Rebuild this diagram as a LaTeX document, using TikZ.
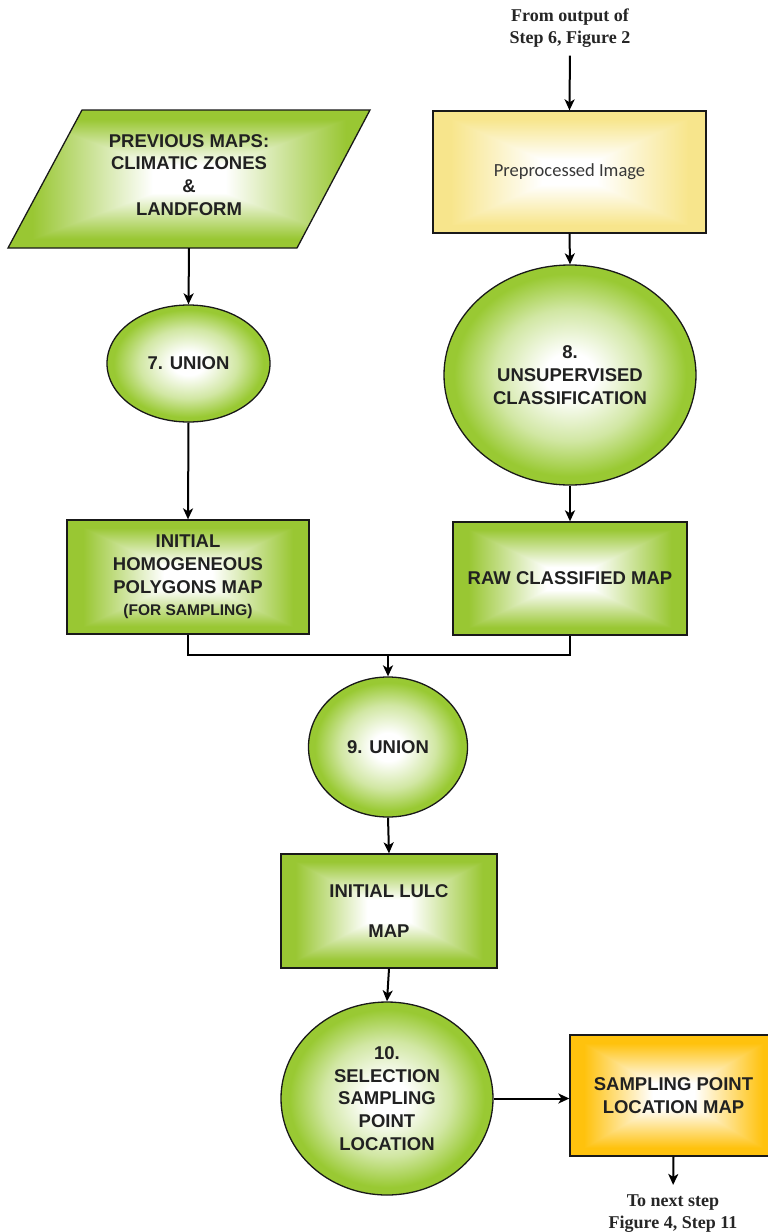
\documentclass[tikz,border=0pt]{standalone}
\usepackage{fontspec}
\setmainfont{Liberation Serif}
\newfontfamily\arialf{Liberation Sans}
\newfontfamily\calibf{Carlito}
\usetikzlibrary{arrows.meta,shapes.geometric}
% rectangular "from centre" gradient; the path box covers 25..75bp of the shading
\newcommand\declrect[4]{%
\pgfdeclarefunctionalshading{#1}{\pgfpointorigin}{\pgfpoint{100bp}{100bp}}{}{%
50 sub abs exch 50 sub abs 2 copy lt {exch} if pop
25 div 0.2 sub 1.5 mul dup 0 lt {pop 0} if dup 1 gt {pop 1} if
dup #2 mul 1 exch sub exch dup #3 mul 1 exch sub exch #4 mul 1 exch sub}}
\declrect{greenrect}{0.40}{0.22}{0.80}
\declrect{yellowrect}{0.03}{0.10}{0.45}
\declrect{orangerect}{0.0}{0.24}{0.95}
\definecolor{lgreen}{rgb}{0.60,0.79,0.20}
\pgfdeclareradialshading{greenball}{\pgfpointorigin}{color(0bp)=(white); color(5bp)=(white); color(15bp)=(lgreen!45!white); color(23bp)=(lgreen); color(50bp)=(lgreen)}
\begin{document}
\begin{tikzpicture}[x=1pt,y=-1pt,
  lab/.style={font=\arialf\bfseries\fontsize{18.5}{22.8}\selectfont, text=black!87, align=center},
  ser/.style={font=\bfseries\fontsize{18}{22}\selectfont, text=black!85, align=center},
  frame/.style={draw=black!90, line width=1.3pt, inner sep=0pt},
  gbox/.style={frame, shade, shading=greenrect},
  ybox/.style={frame, shade, shading=yellowrect},
  obox/.style={frame, shade, shading=orangerect},
  ball/.style={frame, ellipse, shade, shading=greenball},
  arr/.style={line width=2pt, -{Stealth[length=11pt,width=10pt,inset=3pt]}},
  joinline/.style={line width=1.5pt}]
\useasboundingbox (0,0) rectangle (768,1232);
\fill[white] (0,0) rectangle (768,1232);

% left column
\path[frame, shade, shading=greenrect] (82,110) -- (370,110) -- (297,248) -- (8,248) -- cycle;
\node[lab, minimum width=200pt, minimum height=146pt, inner sep=0pt] (prev) at (189,175)
  {PREVIOUS MAPS:\\CLIMATIC ZONES\\\&\\LANDFORM};
\node[ball, lab, minimum width=163pt, minimum height=117pt] (u7) at (188.5,363.5) {7. UNION};
\node[gbox, lab, minimum width=242pt, minimum height=114pt] (hom) at (188,577)
  {INITIAL\\HOMOGENEOUS\\POLYGONS MAP\\{\fontsize{15.5}{21}\selectfont (FOR SAMPLING)}};

% right column
\node[ser, inner sep=0pt] (src) at (570,28) {From output of\\Step 6, Figure 2};
\node[ybox, minimum width=273pt, minimum height=122pt, font=\calibf\fontsize{18.5}{22}\selectfont, text=black!78] (pre) at (569.5,172) {Preprocessed Image};
\node[ball, lab, minimum width=252pt, minimum height=220pt] (u8) at (570,375)
  {8.\\UNSUPERVISED\\CLASSIFICATION};
\node[gbox, lab, minimum width=234pt, minimum height=113pt] (raw) at (570,578.5) {RAW CLASSIFIED MAP};

% merge
\coordinate (j) at (388,655);
\node[ball, lab, minimum width=159pt, minimum height=140pt] (u9) at (388,747) {9. UNION};
\node[gbox, lab, minimum width=216pt, minimum height=114pt] (lulc) at (389,911) {INITIAL LULC\\[18pt]MAP};
\node[ball, lab, minimum width=212pt, minimum height=193pt] (u10) at (387,1098.5)
  {10.\\SELECTION\\SAMPLING\\POINT\\LOCATION};
\node[obox, lab, minimum width=207pt, minimum height=121pt] (samp) at (673.5,1095.5)
  {SAMPLING POINT\\LOCATION MAP};
\node[ser, inner sep=0pt] (nxt) at (673,1214) {To next step\\Figure 4, Step 11};

% connectors
\draw[arr, shorten <=8pt] (src.south) -- (pre.north);
\draw[arr] (pre.south) -- (u8.north);
\draw[arr] (u8.south) -- (raw.north);
\draw[arr] (prev.south) -- (u7.north);
\draw[arr] (u7.south) -- (hom.north);
\draw[joinline] (hom.south) |- (j) -| (raw.south);
\draw[arr] (j) -- (u9.north);
\draw[arr] (u9.south) -- (lulc.north);
\draw[arr] (lulc.south) -- (u10.north);
\draw[arr] (u10.east) -- (samp.west |- u10.east);
\draw[arr, shorten >=10pt] (samp.south) -- (nxt.north);
\end{tikzpicture}
\end{document}
